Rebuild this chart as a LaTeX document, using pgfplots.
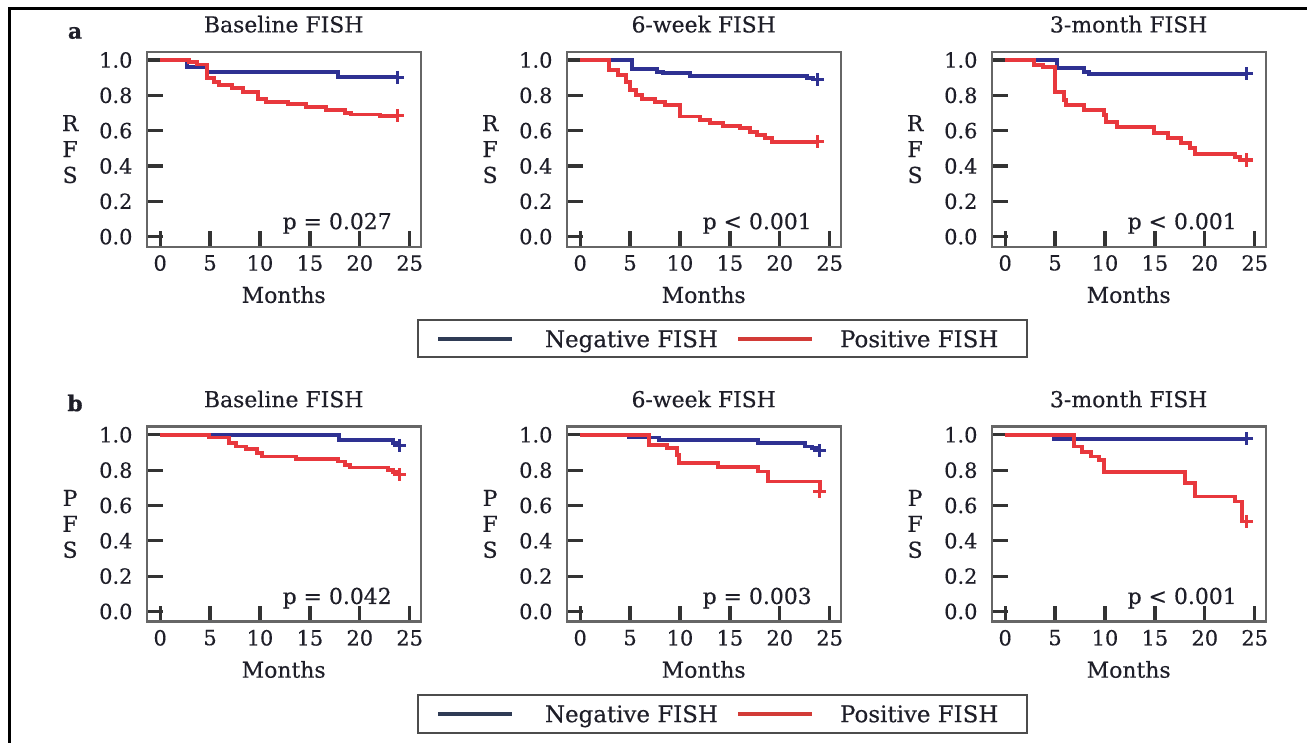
\documentclass[border=0pt]{standalone}
\usepackage{fontspec}
\setmainfont[FakeBold=0.4]{DejaVu Serif}
\usepackage{pgfplots}
\pgfplotsset{compat=1.18}
\definecolor{colneg}{HTML}{2E3192}
\definecolor{colpos}{HTML}{E8383D}
\definecolor{negleg}{HTML}{2F3B55}
\definecolor{posleg}{HTML}{D23B37}
\definecolor{txt}{HTML}{1E1E28}
\newcommand\lab{\fontsize{11}{13}\selectfont}
\newcommand\tck{\fontsize{10.5}{12}\selectfont}
\newcommand\leg{\fontsize{11.5}{13}\selectfont}
\tikzset{pv/.style={anchor=east,font=\lab,text=txt},
  lg/.style={anchor=west,font=\leg,text=txt,text height=0.75em,text depth=0.25em,yshift=-1.6bp}}
\pgfplotsset{km/.style={
  scale only axis,width=137bp,height=97.5bp,anchor=south west,
  xmin=-1.35,xmax=26.1,ymin=-0.057,ymax=1.047,
  xtick={0,5,10,15,20,25},ytick={0,0.2,0.4,0.6,0.8,1.0},
  xtick pos=bottom,ytick pos=left,
  tick align=inside,major tick length=8bp,
  tick style={line width=1.6bp,black!80},
  axis line style={line width=1.2bp,black!60},
  /pgf/number format/assume math mode=true,
  yticklabel style={/pgf/number format/.cd,fixed,fixed zerofill,precision=1,/tikz/.cd,xshift=-3.6bp},
  xticklabel style={yshift=-0.7bp},
  ticklabel style={font=\tck,text=txt},
  title style={font=\lab,text=txt},
  xlabel={Months},
  xlabel style={font=\lab,text=txt,at={(axis description cs:0.5,0)},anchor=center,yshift=-24bp},
  ylabel style={font=\lab,text=txt,rotate=-90,align=center,at={(axis description cs:0,0.5)},anchor=center,xshift=-38.3bp},
  clip=false},
  negc/.style={const plot,colneg,line width=1.9bp},
  posc/.style={const plot,colpos,line width=1.9bp},
  cens/.style={only marks,mark=+,mark size=3.3bp,mark options={line width=1.6bp}}}

\begin{document}
\begin{tikzpicture}
\useasboundingbox (0,0) rectangle (653.5bp,-371.5bp);
\draw[line width=1.5bp] (4.75bp,-372bp) -- (4.75bp,-4bp) -- (654bp,-4bp);
\node[font=\lab\bfseries,text=txt] at (37.5bp,-16.5bp) {a};
\node[font=\lab\bfseries,text=txt] at (37.5bp,-201.5bp) {b};

% ---- row a: RFS ----
\begin{axis}[km,at={(73.35bp,-123.35bp)},title={Baseline FISH},ylabel={R\\F\\S}]
\addplot[negc] coordinates {(0,1)(2.7,0.962)(4.7,0.934)(17.8,0.902)(23.8,0.902)};
\addplot[posc] coordinates {(0,1)(2.85,0.99)(3.7,0.975)(4.7,0.9)(5.4,0.877)(5.9,0.86)(7.2,0.84)(8.3,0.82)(9.8,0.78)(10.6,0.764)(12.8,0.75)(14.6,0.732)(16.6,0.717)(18.5,0.702)(19.1,0.692)(22,0.685)(23.8,0.685)};
\addplot[cens,colneg] coordinates {(23.8,0.902)};
\addplot[cens,colpos] coordinates {(23.8,0.685)};
\node[pv] at (rel axis cs:0.92,0.12) {p = 0.027};
\end{axis}

\begin{axis}[km,at={(283.35bp,-123.35bp)},title={6-week FISH},ylabel={R\\F\\S}]
\addplot[negc] coordinates {(0,1)(5.2,0.947)(7.7,0.934)(8.3,0.925)(11,0.911)(22.7,0.896)(23.3,0.89)(23.8,0.89)};
\addplot[posc] coordinates {(0,1)(2.9,0.943)(3.8,0.915)(4.6,0.877)(5,0.83)(5.6,0.8)(6.2,0.78)(7.5,0.764)(8.5,0.745)(10,0.68)(12,0.66)(13,0.645)(14.3,0.628)(16,0.613)(17,0.594)(17.7,0.575)(18.5,0.557)(19.2,0.538)(23.8,0.538)};
\addplot[cens,colneg] coordinates {(23.8,0.89)};
\addplot[cens,colpos] coordinates {(23.8,0.538)};
\node[pv] at (rel axis cs:0.92,0.12) {p < 0.001};
\end{axis}

\begin{axis}[km,at={(495.85bp,-123.35bp)},title={3-month FISH},ylabel={R\\F\\S}]
\addplot[negc] coordinates {(0,1)(5.2,0.953)(7.9,0.934)(8.4,0.922)(24.2,0.922)};
\addplot[posc] coordinates {(0,1)(2.85,0.97)(3.8,0.96)(5.0,0.82)(5.9,0.774)(6.1,0.745)(7.9,0.717)(9.9,0.689)(10.1,0.651)(11.2,0.619)(14.9,0.585)(16.3,0.557)(17.6,0.528)(18.5,0.5)(19,0.47)(23,0.453)(23.5,0.434)(24.2,0.434)};
\addplot[cens,colneg] coordinates {(24.2,0.922)};
\addplot[cens,colpos] coordinates {(24.2,0.434)};
\node[pv] at (rel axis cs:0.92,0.12) {p < 0.001};
\end{axis}

% legend a
\draw[black!70,line width=1.2bp] (209bp,-160bp) rectangle (513.5bp,-178.5bp);
\draw[negleg,line width=2.2bp] (219bp,-169.5bp) -- (256bp,-169.5bp);
\node[lg] at (269bp,-169.5bp) {Negative FISH};
\draw[posleg,line width=2.2bp] (369bp,-169.5bp) -- (406bp,-169.5bp);
\node[lg] at (416.5bp,-169.5bp) {Positive FISH};

% ---- row b: PFS ----
\begin{axis}[km,at={(73.35bp,-310.75bp)},title={Baseline FISH},ylabel={P\\F\\S}]
\addplot[negc] coordinates {(0,1)(17.95,0.972)(23.3,0.953)(24,0.953)};
\addplot[posc] coordinates {(0,1)(4.9,0.985)(6.9,0.953)(7.6,0.934)(8.6,0.92)(9.7,0.896)(10.2,0.877)(13.6,0.864)(17.8,0.849)(18.5,0.83)(19,0.815)(22.8,0.802)(23.3,0.789)(24,0.789)};
\addplot[cens,colneg] coordinates {(24,0.94)};
\addplot[cens,colpos] coordinates {(24,0.774)};
\node[pv] at (rel axis cs:0.92,0.12) {p = 0.042};
\end{axis}

\begin{axis}[km,at={(283.35bp,-310.75bp)},title={6-week FISH},ylabel={P\\F\\S}]
\addplot[negc] coordinates {(0,1)(4.9,0.985)(7.9,0.972)(17.8,0.953)(22.5,0.934)(23.2,0.925)(24,0.925)};
\addplot[posc] coordinates {(0,1)(6.9,0.943)(8.7,0.925)(9.7,0.887)(9.9,0.84)(13.8,0.82)(17.8,0.792)(18.8,0.736)(24,0.679)};
\addplot[cens,colneg] coordinates {(24,0.91)};
\addplot[cens,colpos] coordinates {(24,0.679)};
\node[pv] at (rel axis cs:0.92,0.12) {p = 0.003};
\end{axis}

\begin{axis}[km,at={(495.85bp,-310.75bp)},title={3-month FISH},ylabel={P\\F\\S}]
\addplot[negc] coordinates {(0,1)(4.9,0.977)(24.2,0.977)};
\addplot[posc] coordinates {(0,1)(6.9,0.934)(7.7,0.902)(8.6,0.877)(9.4,0.858)(9.9,0.789)(18,0.726)(19,0.651)(23,0.623)(23.7,0.509)(24.2,0.509)};
\addplot[cens,colneg] coordinates {(24.2,0.977)};
\addplot[cens,colpos] coordinates {(24.2,0.509)};
\node[pv] at (rel axis cs:0.92,0.12) {p < 0.001};
\end{axis}

% legend b
\draw[black!70,line width=1.2bp] (209bp,-347.5bp) rectangle (513.5bp,-366.5bp);
\draw[negleg,line width=2.2bp] (219bp,-357bp) -- (256bp,-357bp);
\node[lg] at (269bp,-357bp) {Negative FISH};
\draw[posleg,line width=2.2bp] (369bp,-357bp) -- (406bp,-357bp);
\node[lg] at (416.5bp,-357bp) {Positive FISH};
\end{tikzpicture}
\end{document}
